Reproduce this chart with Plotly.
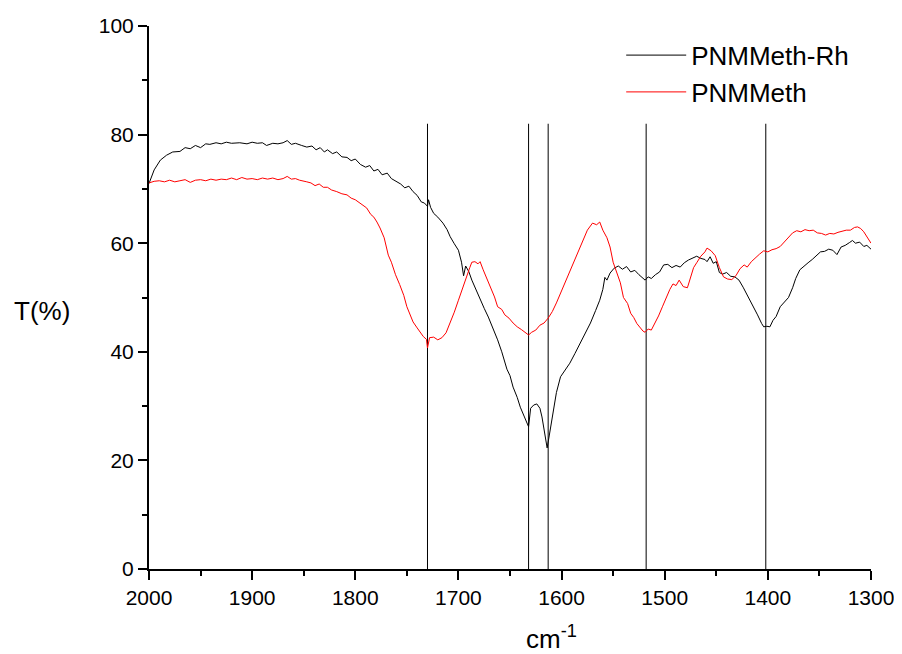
import plotly.graph_objects as go

# PNMMeth-Rh (black)
rh_wn = [2000,1995,1989,1983,1977,1970,1965,1960,1955,1950,1945,1941,1935,1930,1925,1920,1912,1905,1900,1895,
         1890,1886,1880,1875,1870,1866,1862,1858,1852,1847,1842,1838,1834,1830,1827,1822,1818,1813,1808,1804,
         1800,1795,1790,1786,1782,1778,1774,1769,1765,1760,1756,1752,1748,1744,1740,1736,1733,1730,1729,1727,
         1724,1720,1715,1711,1708,1704,1700,1697,1695,1693,1690,1687,1683,1679,1675,1671,1666,1662,1658,1653,
         1650,1647,1643,1640,1636,1633,1632,1630,1627,1624,1621,1619,1616,1614,1612,1609,1605,1601,1597,1592,
         1587,1582,1577,1572,1567,1563,1560,1558,1556,1553,1549,1545,1541,1537,1533,1529,1525,1521,1519,1516,
         1513,1509,1505,1501,1497,1493,1489,1485,1481,1477,1473,1469,1465,1461,1459,1456,1453,1450,1447,1444,
         1440,1436,1432,1428,1424,1420,1417,1414,1410,1406,1404,1401,1398,1395,1392,1388,1384,1380,1376,1373,
         1369,1365,1361,1357,1353,1349,1345,1341,1337,1333,1329,1325,1321,1318,1315,1311,1307,1304,1300]
rh_t = [71.0,73.5,75.3,76.2,76.8,76.9,77.6,77.4,78.0,77.6,78.3,78.2,78.5,78.3,78.6,78.4,78.5,78.3,78.6,78.4,
        78.5,78.0,78.4,78.3,78.5,78.9,78.2,78.4,78.0,77.7,77.9,77.2,77.6,76.8,77.2,76.5,76.8,75.9,75.8,75.2,
        75.5,74.5,74.0,74.3,73.3,73.6,72.6,72.9,71.9,71.4,70.9,70.2,70.5,69.5,68.8,67.6,67.4,66.8,68.0,66.6,
        65.5,64.8,63.7,62.5,61.2,59.9,58.7,56.5,54.0,55.8,54.8,53.2,51.4,49.5,48.0,46.4,44.2,42.2,40.0,36.8,
        35.6,33.5,31.6,29.8,28.0,26.4,26.2,29.6,30.2,30.4,29.6,28.0,25.0,22.3,24.5,28.0,32.5,35.4,36.6,37.9,
        39.7,41.6,43.4,45.3,47.6,49.5,51.5,53.7,53.2,54.5,55.4,55.8,55.2,55.7,54.7,55.0,54.2,53.6,53.2,53.8,
        53.5,54.2,54.7,56.0,56.1,55.5,55.9,55.6,56.4,56.9,57.3,57.6,57.2,57.0,56.6,57.5,56.3,56.6,54.6,54.3,
        54.6,53.9,53.8,53.2,51.9,50.5,49.3,48.3,46.8,45.2,44.6,44.7,44.6,45.8,46.5,48.3,49.2,50.0,51.8,53.5,
        55.1,55.8,56.4,57.0,57.7,58.4,58.5,58.9,58.7,57.9,59.3,59.6,60.1,60.5,60.0,60.2,59.4,59.6,58.9]

# PNMMeth (red)
pm_wn = [2000,1995,1990,1985,1980,1975,1970,1965,1960,1955,1950,1945,1940,1935,1930,1925,1920,1915,1910,1905,
         1900,1895,1890,1885,1880,1875,1870,1866,1862,1858,1854,1850,1847,1843,1839,1835,1831,1827,1823,1818,
         1813,1808,1804,1800,1796,1792,1789,1785,1782,1779,1776,1772,1768,1765,1761,1757,1753,1750,1747,1744,
         1740,1737,1734,1731,1730,1728,1724,1720,1716,1712,1708,1704,1700,1696,1692,1689,1687,1684,1681,1679,
         1676,1672,1668,1665,1662,1658,1655,1651,1647,1643,1639,1635,1632,1629,1625,1621,1617,1613,1609,1605,
         1601,1597,1592,1588,1584,1580,1575,1570,1566,1563,1560,1556,1553,1550,1546,1543,1540,1536,1533,1530,
         1527,1524,1521,1519,1516,1513,1510,1506,1502,1499,1495,1492,1489,1486,1482,1478,1475,1472,1469,1465,
         1461,1459,1455,1451,1447,1443,1439,1435,1431,1427,1423,1420,1416,1412,1408,1404,1400,1396,1392,1388,
         1384,1380,1376,1372,1368,1364,1360,1356,1352,1348,1344,1340,1336,1332,1328,1324,1320,1316,1313,1310,
         1307,1304,1300]
pm_t = [71.1,71.4,71.5,71.3,71.6,71.3,71.5,71.7,71.2,71.6,71.7,71.5,71.8,71.6,71.8,71.7,72.0,71.7,72.1,71.8,
        71.9,71.7,72.0,71.8,72.0,71.7,71.9,72.3,71.8,71.9,71.6,71.5,71.3,71.1,70.6,70.9,70.3,70.3,69.8,69.5,
        69.1,68.9,68.3,68.0,67.4,66.8,66.5,65.3,64.8,63.9,62.8,61.0,57.8,56.5,54.2,52.4,50.4,48.3,46.7,45.5,
        44.4,43.5,42.8,42.3,40.7,42.6,42.7,42.2,42.6,43.5,45.3,47.3,49.5,51.8,53.8,55.5,56.5,56.6,56.2,56.6,
        55.1,53.2,51.4,50.1,48.3,47.8,46.8,46.2,45.3,44.6,44.1,43.5,43.1,43.6,44.0,44.9,45.3,46.2,47.4,49.0,
        50.8,52.4,54.6,56.7,58.5,60.3,62.4,63.7,63.4,63.9,62.4,61.0,59.3,56.5,54.3,52.7,50.0,48.9,47.1,46.3,
        45.2,44.4,43.8,43.6,44.2,44.0,45.0,46.6,48.4,49.8,51.5,52.5,52.2,53.2,52.0,51.8,53.8,55.5,56.4,57.6,
        58.4,59.1,58.6,57.7,55.5,53.8,53.4,53.3,54.0,55.3,56.0,55.6,56.6,57.4,58.0,58.6,58.4,58.8,59.0,59.4,
        60.3,61.1,61.9,62.3,62.1,62.5,62.3,62.4,61.9,61.8,61.5,61.8,61.7,62.0,62.2,62.4,62.4,62.9,63.0,62.7,
        62.1,61.2,60.0]

# Reference band positions (cm-1) and their height
band_positions = [1730, 1632, 1613, 1518, 1402]
band_top = 82

x_ticks = [2000, 1900, 1800, 1700, 1600, 1500, 1400, 1300]
y_ticks = [0, 20, 40, 60, 80, 100]

FONT = "Liberation Sans, Arial, sans-serif"

fig = go.Figure()

for p in band_positions:
    fig.add_trace(go.Scatter(x=[p, p], y=[0, band_top], mode="lines",
                             line=dict(color="black", width=1), showlegend=False,
                             hoverinfo="skip"))

fig.add_trace(go.Scatter(x=rh_wn, y=rh_t, mode="lines", name="PNMMeth-Rh",
                         line=dict(color="black", width=1)))
fig.add_trace(go.Scatter(x=pm_wn, y=pm_t, mode="lines", name="PNMMeth",
                         line=dict(color="red", width=1)))

axis_common = dict(showline=True, linecolor="black", linewidth=2, showgrid=False,
                   zeroline=False, ticks="outside", ticklen=9, tickwidth=2,
                   tickcolor="black", tickfont=dict(family=FONT, size=21, color="black"),
                   mirror=False)

fig.update_xaxes(range=[2000, 1300], tickvals=x_ticks, ticktext=[str(v) for v in x_ticks],
                 minor=dict(dtick=50, ticks="outside", ticklen=5, tickwidth=2, tickcolor="black"),
                 **axis_common)
fig.update_yaxes(range=[0, 100], tickvals=y_ticks, ticktext=[str(v) for v in y_ticks],
                 minor=dict(dtick=10, ticks="outside", ticklen=5, tickwidth=2, tickcolor="black"),
                 **axis_common)

fig.update_layout(
    width=894, height=646,
    margin=dict(l=141, r=31, t=18, b=85, autoexpand=False),
    paper_bgcolor="white", plot_bgcolor="white",
    font=dict(family=FONT, color="black"),
    showlegend=True,
    legend=dict(x=0.654, y=0.9895, xanchor="left", yanchor="top",
                bgcolor="rgba(0,0,0,0)", borderwidth=0,
                font=dict(family=FONT, size=26, color="black"),
                itemwidth=60, tracegroupgap=0),
    annotations=[
        dict(text="T(%)", xref="paper", yref="paper", x=-0.148, y=0.475,
             xanchor="center", yanchor="middle", showarrow=False,
             font=dict(family=FONT, size=26, color="black")),
        dict(text="cm<sup>-1</sup>", xref="paper", yref="paper", x=0.558, y=-0.127,
             xanchor="center", yanchor="middle", showarrow=False,
             font=dict(family=FONT, size=26, color="black")),
    ],
)

fig.write_html("out.html")
